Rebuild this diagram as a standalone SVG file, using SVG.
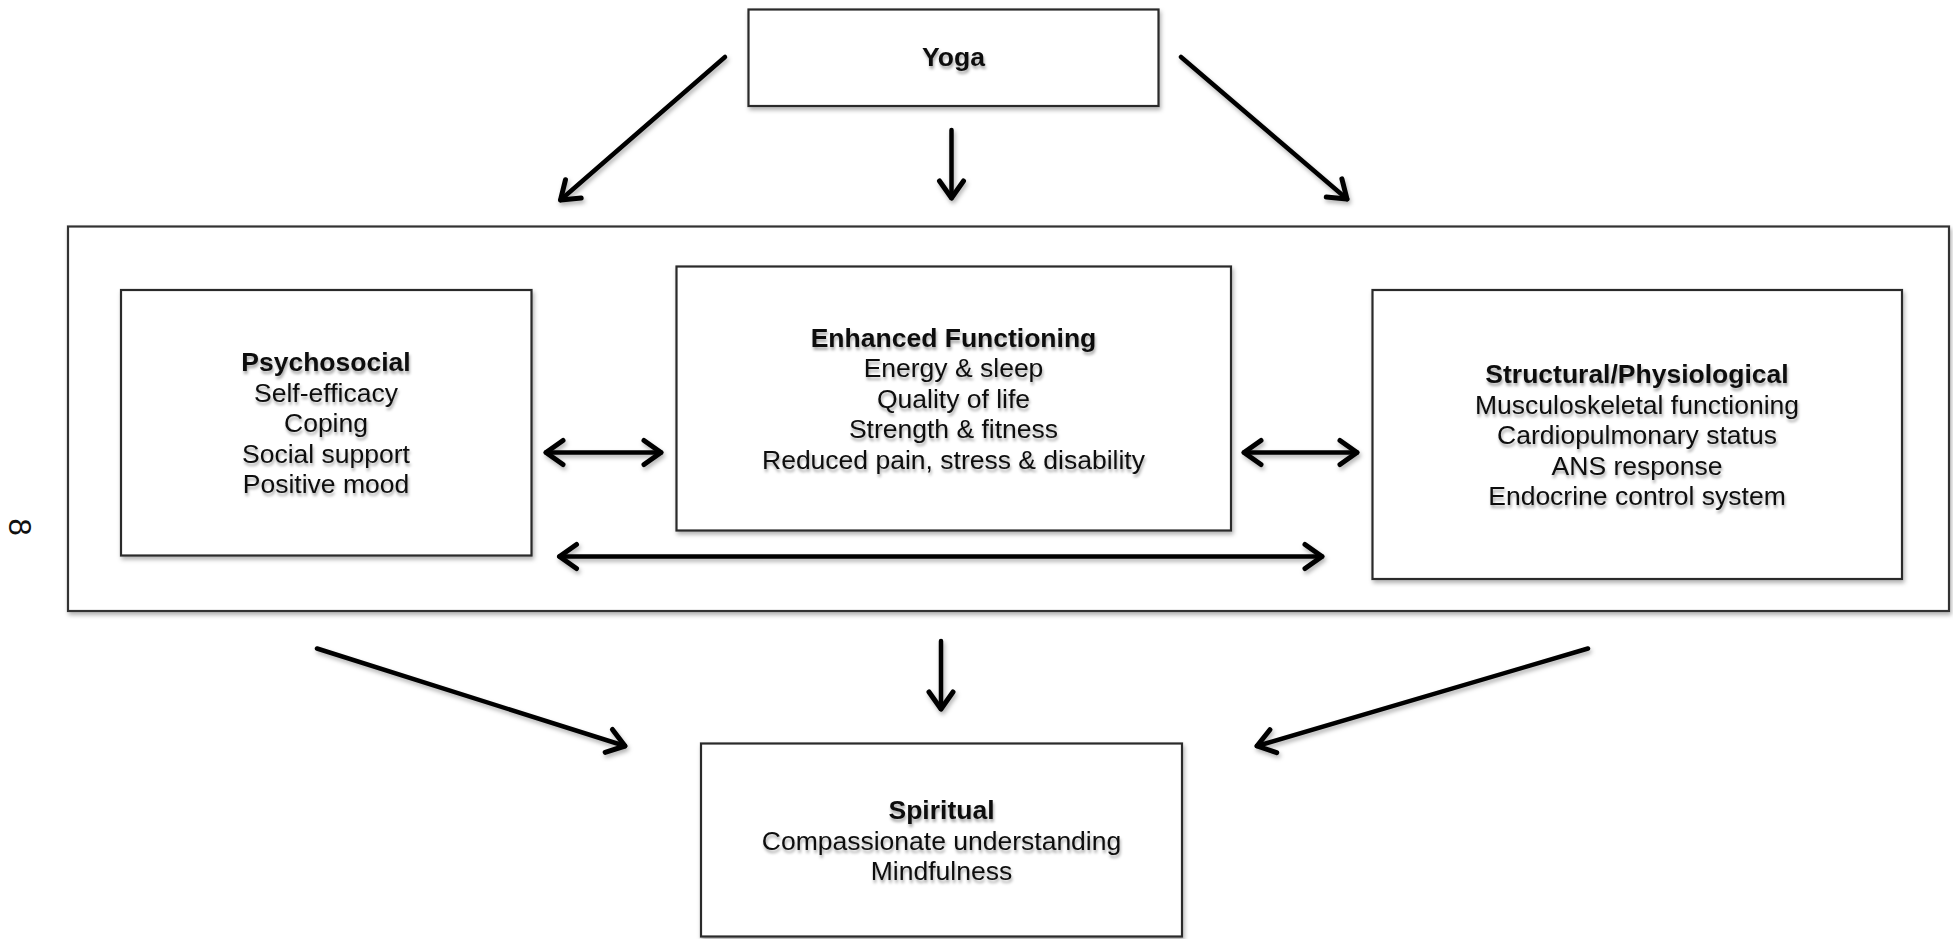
<svg xmlns="http://www.w3.org/2000/svg" width="1953" height="939" viewBox="0 0 1953 939">
<style>
.box{fill:#fff;stroke:#2a2a2a;stroke-width:2.2;filter:url(#sh)}
.outer{fill:#fff;stroke:#333;stroke-width:2.2;filter:url(#sh)}
.t{font-family:"Liberation Sans",Arial,Helvetica,sans-serif;font-size:26.5px;fill:#111;text-anchor:middle;filter:url(#tsh)}
.b{font-weight:bold}
.ar{stroke:#000;stroke-width:4.5;fill:none;stroke-linecap:round}
.one{marker-end:url(#ah)}
.two{marker-start:url(#ah);marker-end:url(#ah)}
</style>
<defs>
<filter id="sh" x="-10%" y="-10%" width="120%" height="130%">
<feDropShadow dx="1.5" dy="3" stdDeviation="2" flood-color="#000" flood-opacity="0.3"/>
</filter>
<filter id="ash" filterUnits="userSpaceOnUse" x="0" y="0" width="1953" height="939">
<feDropShadow dx="1.5" dy="3" stdDeviation="2" flood-color="#000" flood-opacity="0.3"/>
</filter>
<filter id="tsh" x="-10%" y="-20%" width="120%" height="150%">
<feDropShadow dx="1" dy="3" stdDeviation="1.8" flood-color="#000" flood-opacity="0.35"/>
</filter>
<marker id="ah" viewBox="-24 -16 30 32" markerWidth="30" markerHeight="32" refX="0" refY="0" orient="auto-start-reverse" markerUnits="userSpaceOnUse" overflow="visible">
<path d="M-17,-12 L0,0 L-17,12" fill="none" stroke="#000" stroke-width="5" stroke-linecap="round" stroke-linejoin="round"/>
</marker>
</defs>
<rect width="1953" height="939" fill="#fff"/>

<g id="outer-frame">
<rect class="outer" x="68" y="226.5" width="1881" height="384.5"/>
</g>

<g id="yoga">
<rect class="box" x="748.5" y="9.5" width="410" height="96.5"/>
<text class="t b" x="953.5" y="66">Yoga</text>
</g>

<g id="psychosocial">
<rect class="box" x="121" y="290" width="410.5" height="265.5"/>
<text class="t" x="326" y="371"><tspan class="b" x="326">Psychosocial</tspan><tspan x="326" dy="30.5">Self-efficacy</tspan><tspan x="326" dy="30.5">Coping</tspan><tspan x="326" dy="30.5">Social support</tspan><tspan x="326" dy="30.5">Positive mood</tspan></text>
</g>

<g id="enhanced-functioning">
<rect class="box" x="676.5" y="266.5" width="554.5" height="264"/>
<text class="t" x="953.5" y="346.5"><tspan class="b" x="953.5">Enhanced Functioning</tspan><tspan x="953.5" dy="30.5">Energy &amp; sleep</tspan><tspan x="953.5" dy="30.5">Quality of life</tspan><tspan x="953.5" dy="30.5">Strength &amp; fitness</tspan><tspan x="953.5" dy="30.5">Reduced pain, stress &amp; disability</tspan></text>
</g>

<g id="structural-physiological">
<rect class="box" x="1372.5" y="290" width="529.5" height="289"/>
<text class="t" x="1637" y="383"><tspan class="b" x="1637">Structural/Physiological</tspan><tspan x="1637" dy="30.5">Musculoskeletal functioning</tspan><tspan x="1637" dy="30.5">Cardiopulmonary status</tspan><tspan x="1637" dy="30.5">ANS response</tspan><tspan x="1637" dy="30.5">Endocrine control system</tspan></text>
</g>

<g id="spiritual">
<rect class="box" x="701" y="743.5" width="481" height="193"/>
<text class="t" x="941.5" y="819"><tspan class="b" x="941.5">Spiritual</tspan><tspan x="941.5" dy="30.5">Compassionate understanding</tspan><tspan x="941.5" dy="30.5">Mindfulness</tspan></text>
</g>

<g id="page-mark">
<text x="19.5" y="527" font-family="Liberation Sans,Arial,sans-serif" font-size="31" fill="#111" text-anchor="middle" dominant-baseline="central" transform="rotate(90 19.5 527)">8</text>
</g>

<g id="connectors" filter="url(#ash)">
<line class="ar one" x1="725" y1="57" x2="560.5" y2="200"/>
<line class="ar one" x1="951.5" y1="130" x2="951.5" y2="198"/>
<line class="ar one" x1="1181" y1="57" x2="1347" y2="199"/>
<line class="ar two" x1="546" y1="452.5" x2="661" y2="452.5"/>
<line class="ar two" x1="1244" y1="452.5" x2="1357" y2="452.5"/>
<line class="ar two" x1="559.5" y1="556.5" x2="1322" y2="556.5"/>
<line class="ar one" x1="317" y1="648.5" x2="625" y2="746"/>
<line class="ar one" x1="941" y1="641" x2="941" y2="709"/>
<line class="ar one" x1="1588" y1="648.5" x2="1257" y2="746"/>
</g>
</svg>
